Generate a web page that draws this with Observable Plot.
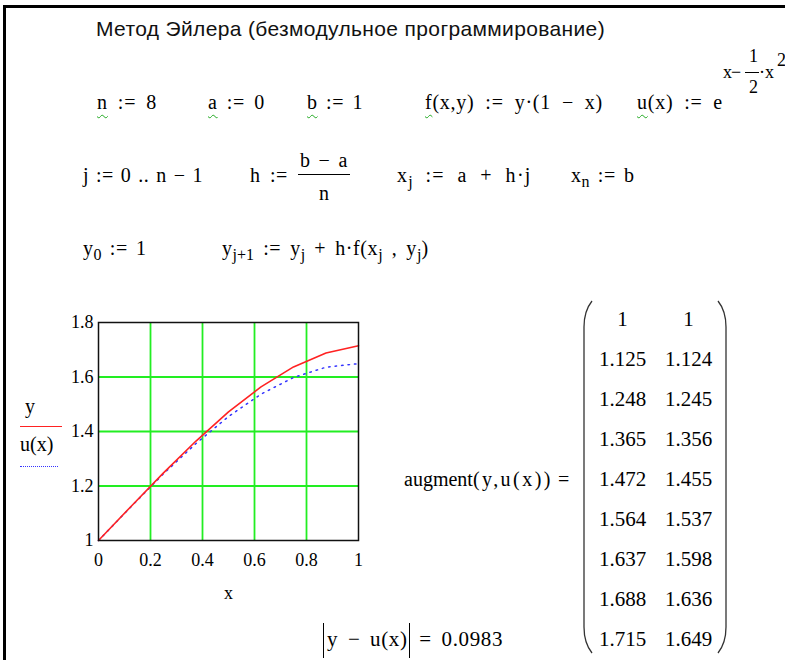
<!DOCTYPE html>
<html>
<head>
<meta charset="utf-8">
<script src="https://cdn.jsdelivr.net/npm/d3@7"></script>
<script src="https://cdn.jsdelivr.net/npm/@observablehq/plot@0.6"></script>
<style>
  html, body { margin: 0; padding: 0; background: #fff; }
  #sheet { position: relative; width: 785px; height: 660px; overflow: hidden; background: #fff; }
  #edge { position: absolute; left: 3px; top: 5px; width: 800px; height: 700px;
          border-left: 3px solid #000; border-top: 3px solid #000; }
  .title { position: absolute; left: 96px; top: 18px; font-family: "Liberation Sans", Arial, sans-serif;
           font-size: 21px; line-height: 1; color: #111; white-space: nowrap; }
  .m { position: absolute; font-family: "Liberation Serif", "Times New Roman", serif; font-size: 20px;
       line-height: 1; color: #000; white-space: nowrap; }
  .s18 { font-size: 18px; }
  .big { font-size: 21px; }
  .w { text-decoration: underline wavy #2a2; text-underline-offset: 5px; text-decoration-thickness: 1px; }
  sub { font-size: 0.8em; vertical-align: -0.3em; line-height: 0; letter-spacing: 0; }
  .bar { position: absolute; height: 0; border-top: 1.3px solid #000; }
  .abs { border-left: 1.4px solid #000; border-right: 1.4px solid #000; padding: 4px 1px 7px 3px; }
  #chart { position: absolute; left: 0; top: 300px; }
  #matrix { position: absolute; left: 580px; top: 295px; }
  .leg { position: absolute; font-family: "Liberation Serif", "Times New Roman", serif; font-size: 20px; line-height: 1; }
  .legline { position: absolute; height: 0; }
</style>
</head>
<body>
<div id="sheet">
  <div id="edge"></div>
  <div class="title" data-w="509" data-words="0">Метод Эйлера (безмодульное программирование)</div>

  <div class="m" style="left:97px;top:92px" data-w="60"><span class="w">n</span> := 8</div>
  <div class="m" style="left:208px;top:92px" data-w="57"><span class="w">a</span> := 0</div>
  <div class="m" style="left:307px;top:92px" data-w="56"><span class="w">b</span> := 1</div>
  <div class="m" style="left:425px;top:92px" data-w="178"><span class="w">f</span>(x,y) := y·(1 − x)</div>
  <div class="m" style="left:637px;top:92px" data-w="86"><span class="w">u</span>(x) := e</div>
  <div class="m s18" style="left:723px;top:63px" data-w="17">x−</div>
  <div class="m s18" style="left:749px;top:47px">1</div>
  <div class="bar" style="left:745px;top:72px;width:14px"></div>
  <div class="m s18" style="left:749px;top:78px">2</div>
  <div class="m s18" style="left:759px;top:63px">·x</div>
  <div class="m s18" style="left:777px;top:51px">2</div>

  <div class="m" style="left:83px;top:165px" data-w="120">j := 0 .. n − 1</div>
  <div class="m" style="left:250px;top:165px" data-w="38">h :=</div>
  <div class="m" style="left:300px;top:150px" data-w="48">b − a</div>
  <div class="bar" style="left:298px;top:174px;width:52px"></div>
  <div class="m" style="left:319px;top:183px">n</div>
  <div class="m" style="left:397px;top:165px" data-w="136">x<sub>j</sub> := a + h·j</div>
  <div class="m" style="left:571px;top:165px" data-w="64">x<sub>n</sub> := b</div>

  <div class="m" style="left:83px;top:238px" data-w="64">y<sub>0</sub> := 1</div>
  <div class="m" style="left:222px;top:238px" data-w="210">y<sub>j+1</sub> := y<sub>j</sub> + h·f(x<sub>j</sub> , y<sub>j</sub>)</div>

  <div id="chart"></div>
  <div class="leg" style="left:25px;top:396px">y</div>
  <div class="legline" style="left:20px;top:426px;width:42px;border-top:1.6px solid #f22"></div>
  <div class="leg" style="left:20px;top:434px">u(x)</div>
  <div class="legline" style="left:20px;top:466px;width:38px;border-top:1.6px dotted #33f"></div>

  <div class="m" style="left:404px;top:469px">augment<span data-w="80" data-words="0">(y,u(x))</span> =</div>
  <div id="matrix"></div>
  <div class="m big" style="left:323px;top:629px" data-w="180"><span class="abs">y − u(x)</span> = 0.0983</div>
</div>
<script>
// Euler nodes x_j = a + h·j, n = 8 on [0, 1]
const xNodes = [0, 0.125, 0.25, 0.375, 0.5, 0.625, 0.75, 0.875, 1];
// Euler solution y_j
const eulerY = [1, 1.125, 1.248, 1.365, 1.472, 1.564, 1.637, 1.688, 1.715];
// Exact solution u(x) = exp(x − x²/2) at the nodes
const exactU = [1, 1.124, 1.245, 1.356, 1.455, 1.537, 1.598, 1.636, 1.649];
// Axis ticks and grid
const xTicks = [0, 0.2, 0.4, 0.6, 0.8, 1];
const yTicks = [1, 1.2, 1.4, 1.6, 1.8];
const xGrid = [0.2, 0.4, 0.6, 0.8];
const yGrid = [1.2, 1.4, 1.6];
// Norm of the difference |y − u(x)|
const errorNorm = 0.0983;

// Spread each formula to its set width: mostly at the spaces, the rest between letters
document.querySelectorAll("[data-w]").forEach(el => {
  const target = +el.dataset.w;
  const w = el.getBoundingClientRect().width;
  const text = el.textContent;
  const spaces = (text.match(/ /g) || []).length;
  const share = el.dataset.words === "0" || !spaces ? 0 : 0.6;
  const extra = target - w;
  if (share) el.style.wordSpacing = (extra * share / spaces) + "px";
  el.style.letterSpacing = (extra * (1 - share) / text.length) + "px";
});

const points = xNodes.map((x, i) => ({x, y: eulerY[i], u: exactU[i]}));
const serif = '"Liberation Serif", "Times New Roman", serif';

const chart = Plot.plot({
  width: 380,
  height: 310,
  marginLeft: 98,
  marginRight: 22,
  marginTop: 22,
  marginBottom: 70,
  style: {fontFamily: serif, fontSize: "18px", color: "#000", background: "transparent", overflow: "visible"},
  x: {domain: [0, 1]},
  y: {domain: [1, 1.8]},
  marks: [
    Plot.gridX(xGrid, {stroke: "#22ee22", strokeOpacity: 1, strokeWidth: 1.8}),
    Plot.gridY(yGrid, {stroke: "#22ee22", strokeOpacity: 1, strokeWidth: 1.8}),
    Plot.line(points, {x: "x", y: "u", stroke: "#3333ff", strokeWidth: 1.5, strokeDasharray: "1.5,5"}),
    Plot.line(points, {x: "x", y: "y", stroke: "#ff2222", strokeWidth: 1.6}),
    Plot.frame({stroke: "#111", strokeWidth: 1.5}),
    Plot.axisX(xTicks, {tickSize: 0, tickPadding: 13, tickFormat: d => String(d), label: null, fontSize: 18}),
    Plot.axisY(yTicks, {tickSize: 0, tickPadding: 5, tickFormat: d => String(d), label: null, fontSize: 18}),
    Plot.text(["x"], {text: d => d, frameAnchor: "bottom", dy: 58, fontSize: 18})
  ]
});
document.getElementById("chart").appendChild(chart);

// augment(y, u(x)) as a two-column matrix
const fmt = v => String(+v.toFixed(3));
const cells = [];
eulerY.forEach((v, i) => cells.push({col: "y", row: i, label: fmt(v)}));
exactU.forEach((v, i) => cells.push({col: "u", row: i, label: fmt(v)}));

const matrix = Plot.plot({
  width: 150,
  height: 365,
  marginLeft: 42,
  marginRight: 42,
  marginTop: 22,
  marginBottom: 20,
  style: {fontFamily: serif, background: "transparent", overflow: "visible"},
  x: {type: "point", domain: ["y", "u"], padding: 0, axis: null},
  y: {type: "point", domain: d3.range(eulerY.length), padding: 0, axis: null},
  marks: [
    Plot.text(cells, {x: "col", y: "row", text: "label", fontSize: 21, fill: "#000"})
  ]
});
document.getElementById("matrix").appendChild(matrix);

// matrix brackets
const ns = "http://www.w3.org/2000/svg";
const svg = document.createElementNS(ns, "svg");
svg.setAttribute("width", 150); svg.setAttribute("height", 365);
svg.setAttribute("style", "position:absolute;left:0;top:0;overflow:visible");
["M12,6 Q4,16 4,32 L4,332 Q4,348 12,358", "M138,6 Q146,16 146,32 L146,332 Q146,348 138,358"].forEach(d => {
  const p = document.createElementNS(ns, "path");
  p.setAttribute("d", d); p.setAttribute("fill", "none");
  p.setAttribute("stroke", "#333"); p.setAttribute("stroke-width", "1.3");
  svg.appendChild(p);
});
document.getElementById("matrix").appendChild(svg);
</script>
</body>
</html>
